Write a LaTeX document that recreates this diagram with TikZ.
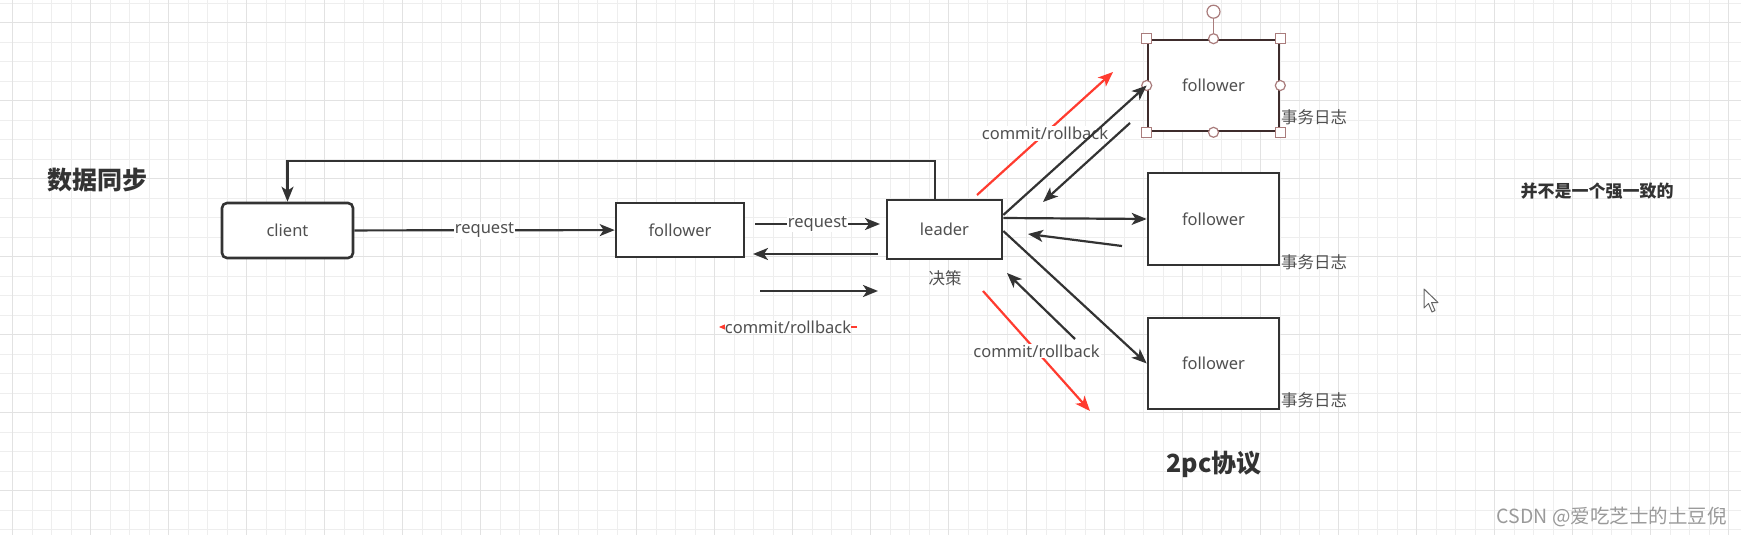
\documentclass[tikz,border=0pt]{standalone}
\usepackage{fontspec}
\setmainfont{Noto Sans}
\newfontfamily\cjk{Noto Sans CJK SC}
\usetikzlibrary{positioning}
\usetikzlibrary{arrows.meta}
\definecolor{ink}{HTML}{333333}
\definecolor{selink}{HTML}{3E2C2C}
\definecolor{txt}{HTML}{505050}
\definecolor{gridmin}{HTML}{EEEEEE}
\definecolor{gridmaj}{HTML}{E2E2E2}
\definecolor{redarr}{HTML}{FF3B2F}
\definecolor{handle}{HTML}{A97C7C}
\definecolor{wmark}{HTML}{9A9A9A}
\tikzset{
    box/.style = {rectangle, draw=ink, line width=2.6pt, fill=white, inner sep=0pt, text=txt, font=\fontsize{16.5}{20}\selectfont},
    boxr/.style = {box, rounded corners=5pt},
    edgen/.style = {-{Stealth[length=15pt,width=12pt,inset=4pt]},line width=2.2pt,draw=ink},
    edger/.style = {-{Stealth[length=15pt,width=12pt,inset=4pt]},line width=2.2pt,draw=redarr},
    edgers/.style = {-{Stealth[length=8pt,width=7pt,inset=2pt]},line width=2pt,draw=redarr}, % small head
    lbl/.style = {fill=white, inner sep=1pt, text=txt, font=\fontsize{16.5}{20}\selectfont},
    note/.style = {inner sep=0pt, text=txt, font=\cjk\fontsize{16.5}{20}\selectfont},
    headline/.style = {inner sep=0pt, text=ink, font=\cjk\bfseries\fontsize{25}{30}\selectfont},
    hsq/.style = {rectangle, draw=handle, fill=white, line width=1.2pt, minimum size=10pt, inner sep=0pt},
    hci/.style = {circle, draw=handle, fill=white, line width=1.2pt, minimum size=10pt, inner sep=0pt}
}

\begin{document}
\begin{tikzpicture}[x=1pt,y=-1pt]
\useasboundingbox (0,0) rectangle (1741,535);
\fill[white] (0,0) rectangle (1741,535);
\foreach \i in {0,...,88} \draw[gridmin,line width=1.2pt] ({12.7+19.5*\i},0) -- ({12.7+19.5*\i},535);
\foreach \k in {-1,...,26} \draw[gridmin,line width=1.2pt] (0,{22.7+19.5*\k}) -- (1741,{22.7+19.5*\k});
\foreach \i in {0,4,...,88} \draw[gridmaj,line width=1.4pt] ({12.7+19.5*\i},0) -- ({12.7+19.5*\i},535);
\foreach \k in {0,4,...,24} \draw[gridmaj,line width=1.4pt] (0,{22.7+19.5*\k}) -- (1741,{22.7+19.5*\k});
%
\node[headline] at (97,180) (sync) {数据同步};
\node[headline] at (1214,464) (twopc) {2pc协议};
\node[headline, font=\cjk\bfseries\fontsize{17}{20}\selectfont] at (1597,191) (weak) {并不是一个强一致的};
\node[inner sep=0pt, anchor=east, text=wmark, font=\cjk\fontsize{19.5}{24}\selectfont] at (1727,517) (wm) {CSDN @爱吃芝士的土豆倪};
%
\node[boxr, minimum width=131pt, minimum height=55pt] at (287.5,230.5) (client) {client};
\node[box, minimum width=128pt, minimum height=54pt] at (680,230) (fol) {follower};
\node[box, minimum width=115pt, minimum height=59pt] at (944.5,229.5) (leader) {leader};
\node[box, draw=selink, minimum width=131pt, minimum height=91pt] at (1213.5,85.5) (fa) {follower};
\node[box, minimum width=131pt, minimum height=92pt] at (1213.5,219) (fb) {follower};
\node[box, minimum width=131pt, minimum height=91pt] at (1213.5,363.5) (fc) {follower};
\node[note] at (945,278) (decide) {决策};
\node[note, anchor=west] at (1281,117) (loga) {事务日志};
\node[note, anchor=west] at (1281,262) (logb) {事务日志};
\node[note, anchor=west] at (1281,400) (logc) {事务日志};
%
\draw[handle,line width=1.2pt] (fa.north) -- ++(0,-21);
\node[hci, minimum size=13pt] at ([yshift=27pt]fa.north) (rot) {};
\node[hsq] at (fa.north west) (h1) {};
\node[hsq] at (fa.north east) (h2) {};
\node[hsq] at (fa.south west) (h3) {};
\node[hsq] at (fa.south east) (h4) {};
\node[hci] at (fa.north) (h5) {};
\node[hci] at (fa.south) (h6) {};
\node[hci] at (fa.west) (h7) {};
\node[hci] at (fa.east) (h8) {};
%
\coordinate (q1) at (755,224);  \coordinate (q2) at (880,224);
\coordinate (p1) at (878,254);  \coordinate (p2) at (753,254);
\coordinate (s1) at (760,291);  \coordinate (s2) at (878,291);
\coordinate (c1) at (857,327);  \coordinate (c2) at (719,327);
\coordinate (ra1) at (977,195); \coordinate (ra2) at (1113,72);
\coordinate (rc1) at (983,291); \coordinate (rc2) at (1090,411);
\coordinate (ba1) at (1130,123); \coordinate (ba2) at (1043,202);
\coordinate (bb1) at (1122,246); \coordinate (bb2) at (1028,234);
\coordinate (bc1) at (1075,339); \coordinate (bc2) at (1007,273);
%
\draw[edgen] (client) -- node[lbl] {request} (fol);
\draw[edgen] ([xshift=-9.5pt]leader.north) -- ++(0,-38) -| (client.north);
\draw[edgen] (q1) -- node[lbl] {request} (q2);
\draw[edgen] (p1) -- (p2);
\draw[edgen] (s1) -- (s2);
\draw[edgers] (c1) -- node[lbl, inner sep=0pt] {commit/rollback} (c2);
\draw[edger] (ra1) -- node[lbl] {commit/rollback} (ra2);
\draw[edger] (rc1) -- node[lbl] {commit/rollback} (rc2);
\draw[edgen] ([yshift=14.5pt]leader.east) -- (fa.west);
\draw[edgen] ([yshift=11.5pt]leader.east) -- (fb.west);
\draw[edgen] ([yshift=-1.5pt]leader.east) -- (fc.west);
\draw[edgen] (ba1) -- (ba2);
\draw[edgen] (bb1) -- (bb2);
\draw[edgen] (bc1) -- (bc2);
%
\draw[gray!80!black, fill=white, line width=1pt, line join=round] (1424,289) -- ++(0,19) -- ++(4.5,-4.5) -- ++(3.5,8.5) -- ++(3,-1.5) -- ++(-3.5,-8) -- ++(6.5,0) -- cycle;
\end{tikzpicture}
\end{document}
